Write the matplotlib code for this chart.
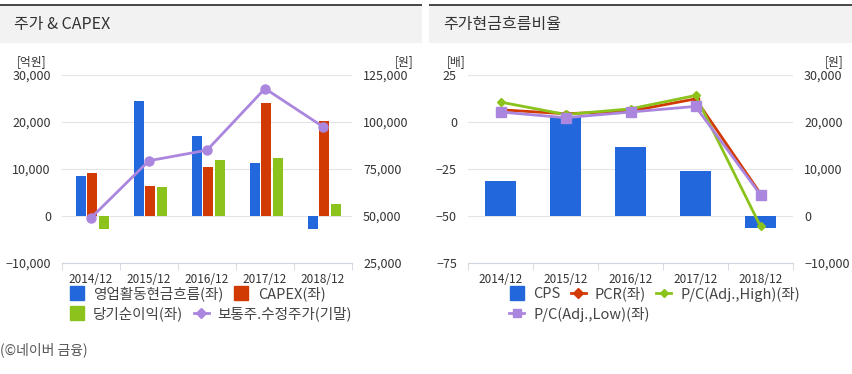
import numpy as np
import matplotlib.pyplot as plt
from matplotlib.lines import Line2D
from matplotlib.patches import Rectangle
from matplotlib.ticker import StrMethodFormatter

plt.rcParams['font.family'] = ['Noto Sans CJK KR', 'DejaVu Sans']

# 데이터
years = ['2014/12', '2015/12', '2016/12', '2017/12', '2018/12']

# 주가 & CAPEX (억원 / 원)
cash_flow = [8600, 24500, 17100, 11200, -2800]     # 영업활동현금흐름
capex = [9100, 6400, 10400, 24000, 20300]          # CAPEX
net_income = [-2700, 6200, 12000, 12300, 2500]     # 당기순이익
price = [49000, 79400, 85000, 117800, 97500]       # 보통주 수정주가

# 주가현금흐름비율 (배 / 원)
cps = [7500, 21200, 14700, 9650, -2500]
pcr = [6.5, 4.4, 5.8, 12.3, -38.2]
pc_high = [10.6, 4.0, 7.0, 14.1, -55.5]
pc_low = [5.3, 2.3, 5.3, 8.3, -38.7]

blue = '#2268dc'
red = '#d23a04'
green = '#8cc21c'
purple = '#ab86de'
grid_c = '#e4e4e4'
txt_c = '#333333'

W, H = 852, 374
fig = plt.figure(figsize=(W / 100, H / 100), dpi=100)


def fx(x):
    return x / W


def fy(y):
    return 1 - y / H


# 헤더
for x0, x1, title in [(0, 422, '주가 & CAPEX'), (429, 852, '주가현금흐름비율')]:
    fig.add_artist(Rectangle((fx(x0), fy(43)), (x1 - x0) / W, 39 / H, transform=fig.transFigure,
                             facecolor='#f2f2f2', edgecolor='none'))
    fig.add_artist(Rectangle((fx(x0), fy(6)), (x1 - x0) / W, 2 / H, transform=fig.transFigure,
                             facecolor='#4a4a4a', edgecolor='none'))
    fig.text(fx(x0 + 14), fy(25), title, fontsize=11.5, color=txt_c, va='center')


def style_axes(ax, axr, xlabels):
    for a in (ax, axr):
        for s in a.spines.values():
            s.set_visible(False)
    ax.spines['bottom'].set_visible(True)
    ax.spines['bottom'].set_color('#cfd6dd')
    ax.set_xlim(-0.5, 4.5)
    ax.set_xticks(np.arange(5))
    ax.set_xticklabels(xlabels)
    ax.set_xticks(np.arange(-0.5, 5, 1), minor=True)
    ax.tick_params(axis='x', which='major', length=0, pad=7, labelsize=8.5, colors=txt_c)
    ax.tick_params(axis='x', which='minor', length=5, color='#cfd6dd')
    ax.tick_params(axis='y', length=0, labelsize=9, colors=txt_c, pad=8)
    axr.tick_params(axis='y', length=0, labelsize=9, colors=txt_c, pad=8)
    ax.grid(axis='y', color=grid_c, linewidth=0.8, zorder=0)
    ax.set_axisbelow(True)


x = np.arange(len(years))

# 왼쪽 차트
ax1 = fig.add_axes([fx(62), fy(263), 290 / W, 188 / H])
ax1r = ax1.twinx()
ax1.bar(x - 0.17, cash_flow, 0.178, color=blue, zorder=2)
ax1.bar(x + 0.02, capex, 0.178, color=red, zorder=2)
ax1.bar(x + 0.22, net_income, 0.178, color=green, zorder=2)
ax1.set_ylim(-10000, 30000)
ax1.set_yticks([-10000, 0, 10000, 20000, 30000])
ax1.yaxis.set_major_formatter(StrMethodFormatter('{x:,.0f}'))
ax1r.plot(x, price, color=purple, linewidth=2, marker='o', markersize=6.5, zorder=3)
ax1r.set_ylim(25000, 125000)
ax1r.set_yticks([25000, 50000, 75000, 100000, 125000])
ax1r.yaxis.set_major_formatter(StrMethodFormatter('{x:,.0f}'))
style_axes(ax1, ax1r, years)
fig.text(fx(17), fy(62), '[억원]', fontsize=8.5, color=txt_c, va='center')
fig.text(fx(395), fy(62), '[원]', fontsize=8.5, color=txt_c, va='center')

# 오른쪽 차트: 막대는 원 단위(오른쪽), 선은 배 단위(왼쪽)
ax2 = fig.add_axes([fx(468), fy(263), 325 / W, 188 / H])
ax2l = ax2.twinx()
ax2.bar(x, cps, 0.49, color=blue, zorder=2)
ax2.set_ylim(-10000, 30000)
ax2.set_yticks([-10000, 0, 10000, 20000, 30000])
ax2.yaxis.set_major_formatter(StrMethodFormatter('{x:,.0f}'))
ax2.yaxis.tick_right()
ax2l.yaxis.tick_left()
ax2l.plot(x, pcr, color=red, linewidth=2, marker='o', markersize=4.5, zorder=3)
ax2l.plot(x, pc_high, color=green, linewidth=2, marker='D', markersize=4.5, zorder=3)
ax2l.plot(x, pc_low, color=purple, linewidth=2, marker='s', markersize=6.5, zorder=3)
ax2l.set_ylim(-75, 25)
ax2l.set_yticks([-75, -50, -25, 0, 25])
style_axes(ax2, ax2l, years)
fig.text(fx(447), fy(62), '[배]', fontsize=8.5, color=txt_c, va='center')
fig.text(fx(825), fy(62), '[원]', fontsize=8.5, color=txt_c, va='center')


def sq(c):
    return Line2D([], [], linestyle='none', marker='s', markersize=9.5, color=c)


def ln(c, m, ms):
    return Line2D([], [], color=c, linewidth=2, marker=m, markersize=ms)


leg_kw = dict(loc='center left', frameon=False, borderpad=0, borderaxespad=0, handlelength=1.05,
              handletextpad=0.6, columnspacing=0.7, fontsize=10.5, labelcolor='#444444')

fig.legend([sq(blue), sq(red)], ['영업활동현금흐름(좌)', 'CAPEX(좌)'], ncol=2,
           bbox_to_anchor=(fx(69), fy(294)), **leg_kw)
fig.legend([sq(green), ln(purple, 'D', 5)], ['당기순이익(좌)', '보통주.수정주가(기말)'], ncol=2,
           bbox_to_anchor=(fx(69), fy(314)), **leg_kw)
fig.legend([sq(blue), ln(red, 'D', 5), ln(green, 'D', 4)], ['CPS', 'PCR(좌)', 'P/C(Adj.,High)(좌)'],
           ncol=3, bbox_to_anchor=(fx(509), fy(294)), **leg_kw)
fig.legend([ln(purple, 's', 6)], ['P/C(Adj.,Low)(좌)'],
           bbox_to_anchor=(fx(509), fy(314)), **leg_kw)

fig.text(fx(0), fy(350), '(©네이버 금융)', fontsize=10, color='#555555', va='center')

fig.savefig('out.png', dpi=100)
